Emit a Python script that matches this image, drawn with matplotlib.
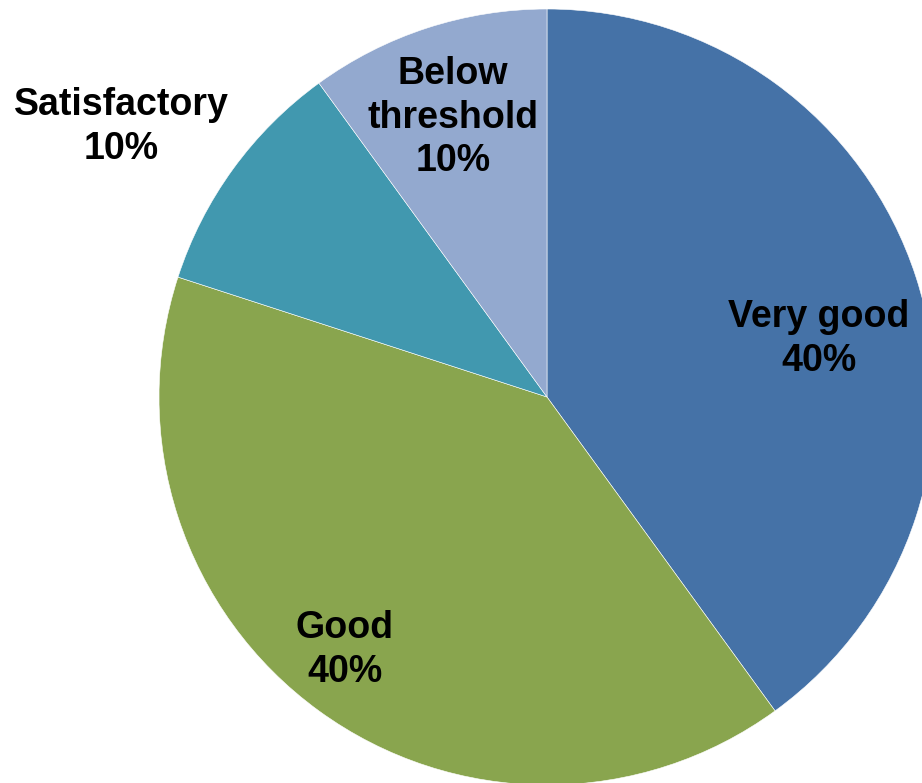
import numpy as np
import matplotlib
matplotlib.use("Agg")
import matplotlib.pyplot as plt

# data
labels = ['Very good', 'Good', 'Satisfactory', 'Below\nthreshold']
shares = [40, 40, 10, 10]
colors = ['#4572A7', '#89A54E', '#4198AF', '#93A9CF']
# label placement: fraction of radius and angle offset from slice middle
label_dist = [0.716, 0.835, 1.30, 0.76]
label_turn = [-6.0, -2.6, 3.6, 0.6]

fig = plt.figure(figsize=(9.22, 7.83), dpi=100)
ax = fig.add_axes([0, 0, 1, 1])

cx, cy, r = 547, 386, 388
wedges, _ = ax.pie(shares, colors=colors, startangle=90, counterclock=False,
                   center=(cx, cy), radius=r, frame=True,
                   wedgeprops=dict(edgecolor='white', linewidth=0.4))
ax.set_xlim(0, 922)
ax.set_ylim(0, 783)
ax.axis('off')

for w, lab, val, d, turn in zip(wedges, labels, shares, label_dist, label_turn):
    mid = np.deg2rad((w.theta1 + w.theta2) / 2 + turn)
    x = cx + d * r * np.cos(mid)
    y = cy + d * r * np.sin(mid)
    ax.text(x, y, f'{lab}\n{val}%', ha='center', va='center',
            fontsize=27, fontweight='bold', family='Liberation Sans',
            linespacing=1.27, color='black')

fig.savefig('out.png', dpi=100)
